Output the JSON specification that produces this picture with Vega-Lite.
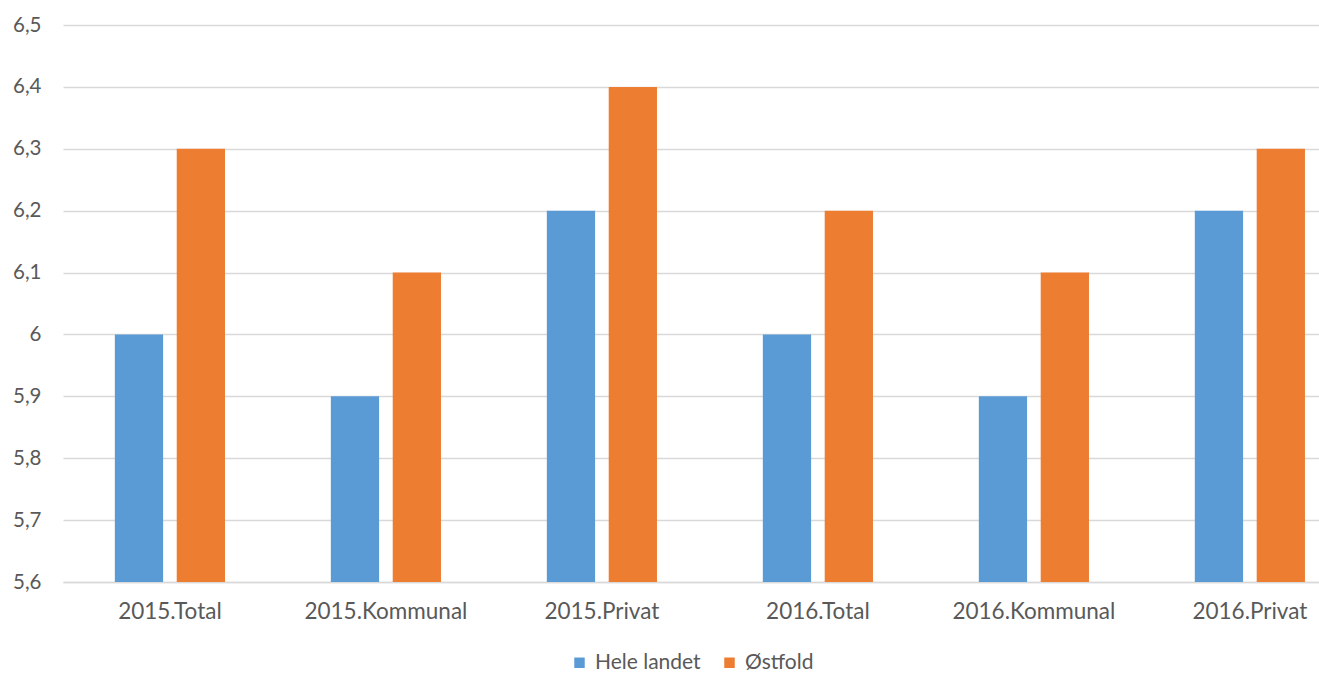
{
  "$schema": "https://vega.github.io/schema/vega-lite/v6.json",
  "autosize": "none",
  "padding": {"left": 63, "top": 25, "right": 0, "bottom": 91},
  "width": 1256,
  "height": 557,
  "config": {
    "view": {"stroke": null},
    "locale": {"number": {"decimal": ",", "thousands": " ", "grouping": [3], "currency": ["", " kr"]}},
    "font": "Lato"
  },
  "data": {
    "values": [
      {"kategori": "2015.Total", "serie": "Hele landet", "verdi": 6.0},
      {"kategori": "2015.Total", "serie": "Østfold", "verdi": 6.3},
      {"kategori": "2015.Kommunal", "serie": "Hele landet", "verdi": 5.9},
      {"kategori": "2015.Kommunal", "serie": "Østfold", "verdi": 6.1},
      {"kategori": "2015.Privat", "serie": "Hele landet", "verdi": 6.2},
      {"kategori": "2015.Privat", "serie": "Østfold", "verdi": 6.4},
      {"kategori": "2016.Total", "serie": "Hele landet", "verdi": 6.0},
      {"kategori": "2016.Total", "serie": "Østfold", "verdi": 6.2},
      {"kategori": "2016.Kommunal", "serie": "Hele landet", "verdi": 5.9},
      {"kategori": "2016.Kommunal", "serie": "Østfold", "verdi": 6.1},
      {"kategori": "2016.Privat", "serie": "Hele landet", "verdi": 6.2},
      {"kategori": "2016.Privat", "serie": "Østfold", "verdi": 6.3}
    ]
  },
  "mark": {"type": "bar", "clip": true},
  "encoding": {
    "x": {
      "field": "kategori",
      "type": "nominal",
      "sort": null,
      "scale": {"paddingInner": 0.49, "paddingOuter": 0.1525, "align": 0.787},
      "axis": {
        "title": null,
        "labelAngle": 0,
        "labelFontSize": 22.5,
        "labelColor": "#595959",
        "labelPadding": 18,
        "ticks": false,
        "domainColor": "#d9d9d9",
        "domainWidth": 1.5
      }
    },
    "xOffset": {
      "field": "serie",
      "type": "nominal",
      "scale": {"paddingInner": 0.22}
    },
    "y": {
      "field": "verdi",
      "type": "quantitative",
      "scale": {"domain": [5.6, 6.5], "zero": false, "nice": false},
      "axis": {
        "title": null,
        "values": [5.6, 5.7, 5.8, 5.9, 6.0, 6.1, 6.2, 6.3, 6.4, 6.5],
        "format": ".1~f",
        "labelFontSize": 20.5,
        "labelColor": "#595959",
        "labelPadding": 22,
        "ticks": false,
        "domain": false,
        "gridColor": "#d9d9d9",
        "gridWidth": 1.5
      }
    },
    "color": {
      "field": "serie",
      "type": "nominal",
      "scale": {"domain": ["Hele landet", "Østfold"], "range": ["#5b9bd5", "#ed7d31"]},
      "legend": {
        "title": null,
        "orient": "none",
        "direction": "horizontal",
        "legendX": 506,
        "legendY": 627,
        "symbolType": "square",
        "symbolSize": 110,
        "symbolStrokeWidth": 0,
        "labelFontSize": 21,
        "labelColor": "#595959",
        "labelOffset": 5,
        "columnPadding": 18
      }
    }
  }
}
